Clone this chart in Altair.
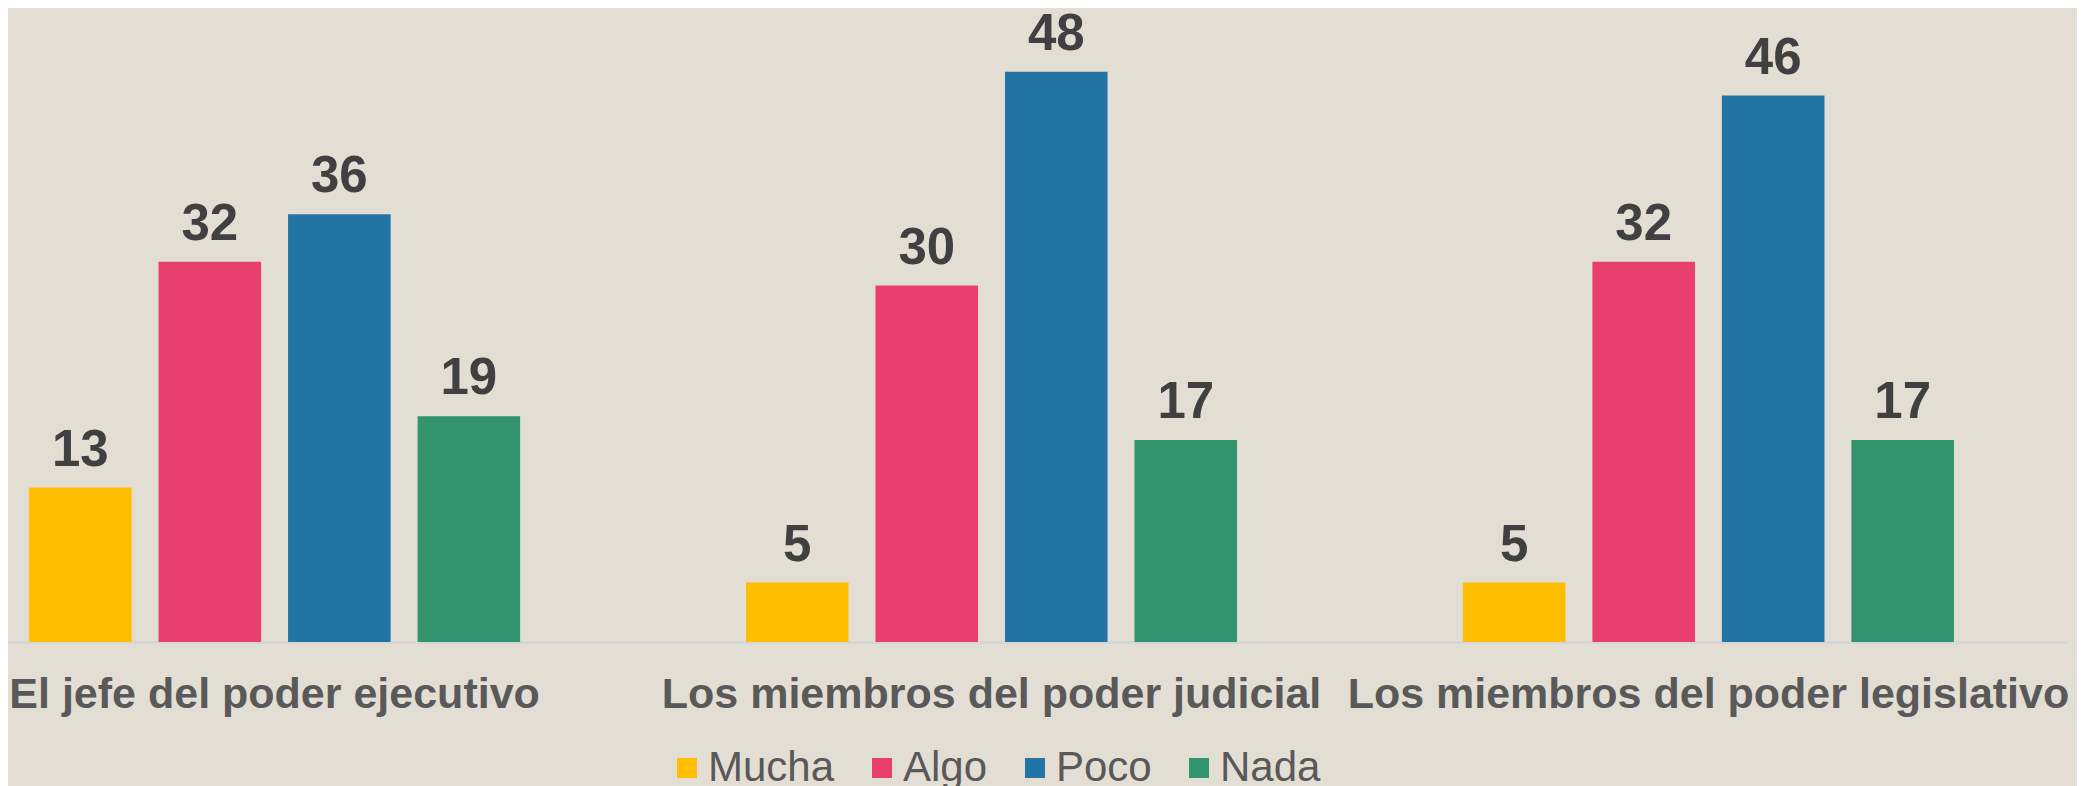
import altair as alt
import pandas as pd

groups = ["El jefe del poder ejecutivo",
          "Los miembros del poder judicial",
          "Los miembros del poder legislativo"]
series = ["Mucha", "Algo", "Poco", "Nada"]
colors = ["#FFBF00", "#E83F6F", "#2274A5", "#32936F"]
mucha = [13, 5, 5]
algo = [32, 30, 32]
poco = [36, 48, 46]
nada = [19, 17, 17]

rows = []
for i, g in enumerate(groups):
    for s, vals in zip(series, [mucha, algo, poco, nada]):
        rows.append({"grupo": g, "serie": s, "valor": vals[i]})
df = pd.DataFrame(rows)

FONT = "Liberation Sans"
BG = "#E3DED3"

x_enc = alt.X("grupo:N", sort=groups, title=None,
              scale=alt.Scale(paddingInner=0.315, paddingOuter=0.0935, align=0.157),
              axis=alt.Axis(labelAngle=0, labelFontSize=43, labelFontWeight="bold",
                            labelColor="#595959", labelFont=FONT, labelPadding=31,
                            labelLimit=2000, ticks=False, tickSize=0,
                            domainColor="#D6D6D6", domainWidth=3, grid=False))
xo_enc = alt.XOffset("serie:N", sort=series,
                     scale=alt.Scale(paddingInner=0.208, paddingOuter=0))
y_enc = alt.Y("valor:Q", scale=alt.Scale(domain=[0, 50], nice=False), axis=None)

base = alt.Chart(df).encode(x=x_enc, xOffset=xo_enc, y=y_enc)

bars = base.mark_bar().encode(
    color=alt.Color("serie:N", sort=series,
                    scale=alt.Scale(domain=series, range=colors),
                    legend=alt.Legend(title=None, orient="none", legendX=658, legendY=699,
                                      direction="horizontal", symbolType="square",
                                      symbolSize=400, symbolStrokeWidth=0,
                                      labelFontSize=42, labelFont=FONT,
                                      labelColor="#595959", labelOffset=0,
                                      columnPadding=26, padding=0))
)

labels = base.mark_text(baseline="alphabetic", dy=-22, fontSize=51,
                        fontWeight="bold", font=FONT, color="#404040").encode(
    text=alt.Text("valor:Q")
)

chart = alt.layer(bars, labels).properties(
    width=2059, height=594,
    background=BG,
    padding={"left": 0, "top": 40, "right": 10, "bottom": 144},
    autosize=alt.AutoSizeParams(type="none"),
).configure_view(stroke=None)

chart.save("out.html", embed_options={"renderer": "svg", "actions": False})
